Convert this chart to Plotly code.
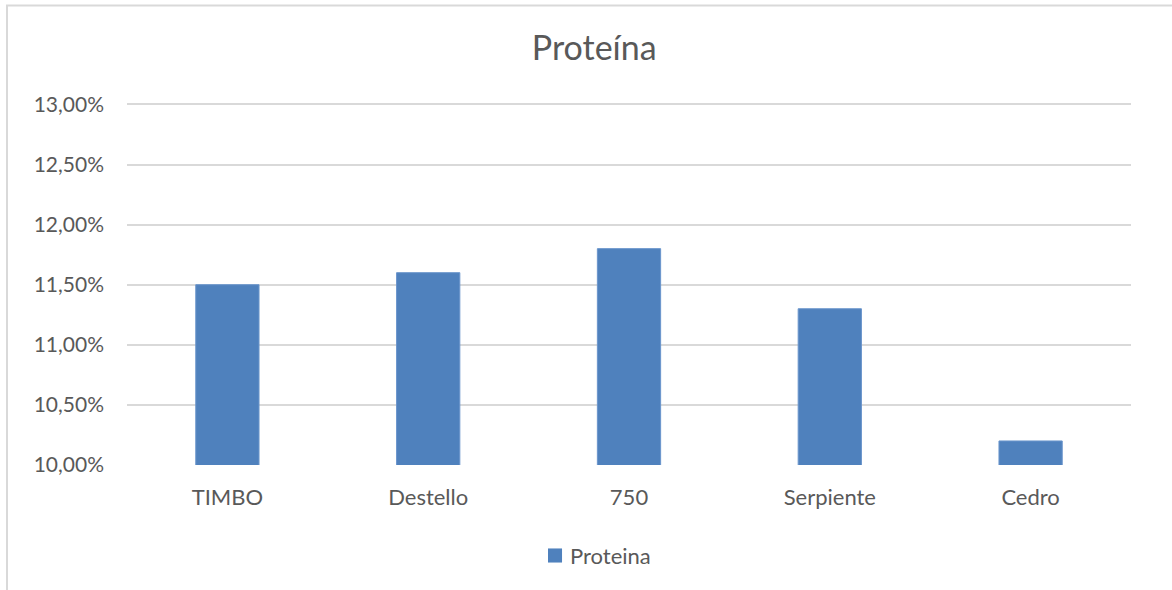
import plotly.graph_objects as go

# Protein content by variety
categories = ["TIMBO", "Destello", "750", "Serpiente", "Cedro"]
proteina = [0.115, 0.116, 0.118, 0.113, 0.102]
y_ticks = [0.10, 0.105, 0.11, 0.115, 0.12, 0.125, 0.13]
series_name = "Proteina"

FONT = "Lato"
TEXT = "#595959"
GRID = "#d9d9d9"
BAR = "#4f81bd"

fig = go.Figure()
fig.add_trace(go.Bar(
    x=categories,
    y=proteina,
    name=series_name,
    marker=dict(color=BAR, line=dict(color="#6a95cc", width=1)),
    showlegend=False,
))

# small headroom above 13% so its gridline is kept
y_top = 0.1302
plot_h = 465 - 104
top_margin = 104 - round(plot_h * (y_top - 0.13) / 0.03)

fig.update_layout(
    width=1172,
    height=590,
    margin=dict(l=127, r=41, t=top_margin, b=125),
    paper_bgcolor="white",
    plot_bgcolor="white",
    separators=",.",
    font=dict(family=FONT, color=TEXT, size=21),
    bargap=0.685,
    title=dict(
        text="Proteína",
        xref="container", x=0.507, xanchor="center",
        yref="container", y=0.919, yanchor="middle",
        font=dict(family=FONT, size=34, color=TEXT),
    ),
    xaxis=dict(
        showgrid=False,
        showline=False,
        ticks="",
        ticklabelstandoff=17,
        tickfont=dict(family=FONT, size=22, color=TEXT),
    ),
    yaxis=dict(
        range=[0.10, y_top],
        tickvals=y_ticks,
        tickformat=".2%",
        showgrid=True,
        gridcolor=GRID,
        gridwidth=2,
        zeroline=False,
        showline=False,
        ticks="",
        ticklabelstandoff=22,
        tickfont=dict(family=FONT, size=21, color=TEXT),
    ),
    shapes=[
        # chart frame
        dict(
            type="rect", xref="paper", yref="paper",
            x0=-0.1195, x1=1.2, y0=-0.6, y1=1.2658,
            line=dict(color=GRID, width=2),
            fillcolor="rgba(0,0,0,0)",
            layer="below",
        ),
        # legend swatch
        dict(
            type="rect", xref="paper", yref="paper",
            x0=0.4193, x1=0.4333, y0=-0.2687, y1=-0.2299,
            line=dict(width=0),
            fillcolor=BAR,
        ),
    ],
    annotations=[
        dict(
            text=series_name,
            xref="paper", yref="paper",
            x=0.4392, y=-0.2493, xanchor="left", yanchor="middle",
            showarrow=False,
            font=dict(family=FONT, size=22, color=TEXT),
        )
    ],
)

fig.write_html("out.html")
